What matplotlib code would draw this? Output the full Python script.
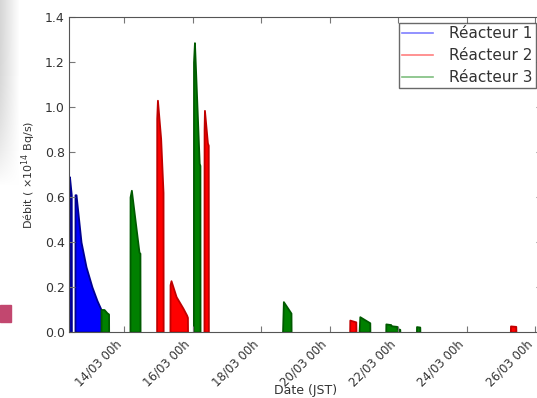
import pandas as pd
import numpy as np
import matplotlib
matplotlib.use("Agg")
import matplotlib.pyplot as plt
import matplotlib.dates as mdates
from matplotlib.lines import Line2D
from matplotlib.patches import Rectangle

# rejets par réacteur, une liste par bouffée (temps JST, débit en 1e14 Bq/s)
r1_times = [
    ["2011-03-12 09:45", "2011-03-12 09:50", "2011-03-12 11:05", "2011-03-12 11:10"],
    ["2011-03-12 13:40", "2011-03-12 13:42", "2011-03-12 14:25", "2011-03-12 17:55",
     "2011-03-12 21:25", "2011-03-13 01:35", "2011-03-13 05:05", "2011-03-13 07:55",
     "2011-03-13 08:00"],
]
r1_vals = [
    [0, 0.69, 0.61, 0],
    [0, 0.61, 0.61, 0.40, 0.29, 0.20, 0.14, 0.10, 0],
]

r2_times = [
    ["2011-03-14 22:50", "2011-03-14 22:55", "2011-03-14 23:25", "2011-03-15 01:40",
     "2011-03-15 03:20", "2011-03-15 03:25"],
    ["2011-03-15 08:10", "2011-03-15 08:15", "2011-03-15 08:55", "2011-03-15 12:30",
     "2011-03-15 17:10", "2011-03-15 19:50", "2011-03-15 20:25", "2011-03-15 20:30"],
    ["2011-03-16 08:00", "2011-03-16 08:05", "2011-03-16 08:20", "2011-03-16 10:25",
     "2011-03-16 11:00", "2011-03-16 11:05"],
    ["2011-03-20 14:00", "2011-03-20 14:06", "2011-03-20 18:18", "2011-03-20 18:24"],
    ["2011-03-25 06:30", "2011-03-25 06:36", "2011-03-25 10:18", "2011-03-25 10:24"],
]
r2_vals = [
    [0, 0.95, 1.03, 0.86, 0.62, 0],
    [0, 0.21, 0.228, 0.157, 0.107, 0.075, 0.065, 0],
    [0, 0.90, 0.985, 0.84, 0.83, 0],
    [0, 0.053, 0.045, 0],
    [0, 0.027, 0.025, 0],
]

r3_times = [
    ["2011-03-13 07:55", "2011-03-13 08:00", "2011-03-13 10:00", "2011-03-13 12:06",
     "2011-03-13 13:12", "2011-03-13 13:15"],
    ["2011-03-14 04:10", "2011-03-14 04:15", "2011-03-14 05:10", "2011-03-14 10:30",
     "2011-03-14 11:10", "2011-03-14 11:15"],
    ["2011-03-16 00:35", "2011-03-16 00:40", "2011-03-16 01:20", "2011-03-16 04:40",
     "2011-03-16 05:10", "2011-03-16 05:15"],
    ["2011-03-18 15:00", "2011-03-18 15:35", "2011-03-18 20:55", "2011-03-18 21:00"],
    ["2011-03-20 20:36", "2011-03-20 21:06", "2011-03-21 04:06", "2011-03-21 04:10"],
    ["2011-03-21 15:15", "2011-03-21 15:20", "2011-03-21 18:45", "2011-03-21 18:50",
     "2011-03-21 23:00", "2011-03-21 23:05", "2011-03-22 01:05", "2011-03-22 01:10"],
    ["2011-03-22 12:45", "2011-03-22 12:48", "2011-03-22 15:06", "2011-03-22 15:10"],
]
r3_vals = [
    [0, 0.10, 0.10, 0.085, 0.08, 0],
    [0, 0.60, 0.63, 0.355, 0.35, 0],
    [0, 1.20, 1.286, 0.75, 0.74, 0],
    [0, 0.135, 0.084, 0],
    [0, 0.068, 0.041, 0],
    [0, 0.036, 0.033, 0.028, 0.025, 0.015, 0.012, 0],
    [0, 0.024, 0.022, 0],
]

labels = ["Réacteur 1", "Réacteur 2", "Réacteur 3"]
couleurs = ["#0000ff", "#ff0000", "#008000"]
bords = ["#000090", "#c00000", "#005a00"]

fig = plt.figure(figsize=(5.37, 3.98), dpi=100)
ax = fig.add_axes([69 / 537, 1 - 332 / 398, 473 / 537, 315 / 398])

series = [(r1_times, r1_vals), (r2_times, r2_vals), (r3_times, r3_vals)]
for (tt, vv), c, e in zip(series, couleurs, bords):
    for t, v in zip(tt, vv):
        t = pd.to_datetime(t)
        ax.fill_between(t, 0, v, facecolor=c, edgecolor=e, linewidth=1.3)

ax.set_xlim(pd.Timestamp("2011-03-12 09:30"), pd.Timestamp("2011-03-26 04:40"))
ax.set_ylim(0, 1.4)
ax.set_yticks(np.arange(0, 1.41, 0.2))
ax.yaxis.set_major_formatter(matplotlib.ticker.FormatStrFormatter("%.1f"))
ax.xaxis.set_major_locator(mdates.DayLocator(bymonthday=range(14, 27, 2)))
ax.xaxis.set_major_formatter(mdates.DateFormatter("%d/%m %Hh"))

for s in ax.spines.values():
    s.set_color("#555555")
ax.tick_params(direction="in", top=True, right=True, length=4, color="#777777",
               labelsize=9, labelcolor="#333333", pad=3)
ax.tick_params(axis="x", labelsize=8.5, pad=4)
for lab in ax.get_xticklabels():
    lab.set_rotation(45)
    lab.set_ha("right")

ax.set_xlabel("Date (JST)", fontsize=9, color="#333333")
ax.xaxis.set_label_coords(0.5, -0.165)
ax.set_ylabel("Débit ( $\\times10^{14}$ Bq/s)", fontsize=8, color="#333333", labelpad=5)

handles = [Line2D([], [], color=c, alpha=0.5, lw=1.2) for c in couleurs]
leg = ax.legend(handles, labels, loc="upper right", fontsize=11, fancybox=False,
                borderaxespad=0.4, handlelength=2.0, handletextpad=1.1, labelspacing=0.46,
                borderpad=0.2)
leg.get_frame().set_edgecolor("#444444")
for txt in leg.get_texts():
    txt.set_color("#333333")

# bouts de la diapositive autour du graphique
gx = np.linspace(0.84, 1.0, 20)[None, :]
gy = np.clip(np.linspace(0, 1.4, 260), 0, 1)[:, None] ** 3
img = np.repeat((gx + (1 - gx) * gy)[:, :, None], 3, axis=2)
gax = fig.add_axes([0, 1 - 260 / 398, 20 / 537, 260 / 398])
gax.imshow(img, aspect="auto", vmin=0, vmax=1)
gax.axis("off")
fig.patches.append(Rectangle((0, 1 - 322 / 398), 11 / 537, 17 / 398,
                             transform=fig.transFigure, color="#c2476f"))

fig.savefig("out.png", dpi=100)
